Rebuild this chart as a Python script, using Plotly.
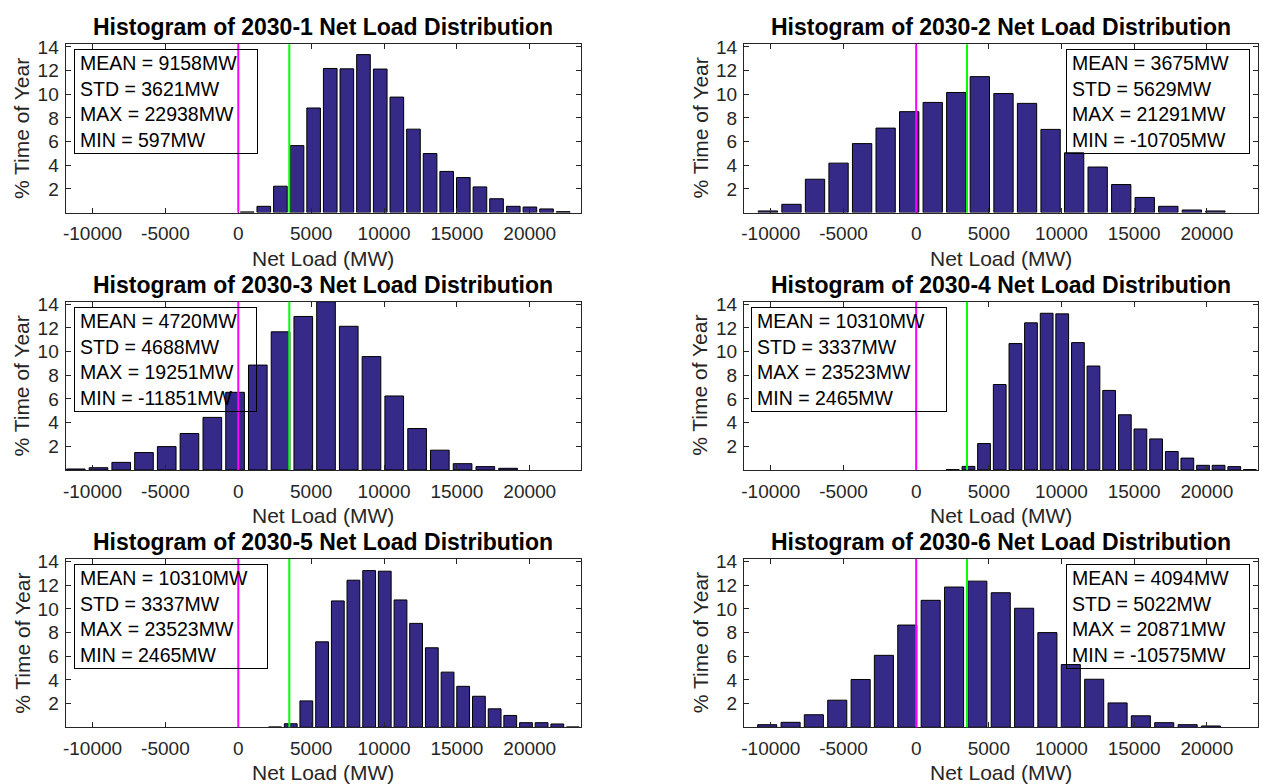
import plotly.graph_objects as go

# ---- data ----
scenarios = ["2030-1", "2030-2", "2030-3", "2030-4", "2030-5", "2030-6"]

# bin centres (MW) of the 20 histogram bars in each panel
centers_1 = [610, 1750, 2890, 4030, 5170, 6310, 7450, 8590, 9740, 10880,
             12020, 13160, 14300, 15440, 16580, 17720, 18870, 20010, 21150, 22290]
centers_2 = [-10200, -8580, -6960, -5340, -3720, -2100, -480, 1140, 2760, 4380,
             6010, 7630, 9250, 10870, 12490, 14110, 15730, 17350, 18970, 20590]
centers_3 = [-11150, -9590, -8030, -6470, -4910, -3350, -1780, -220, 1340, 2900,
             4460, 6020, 7580, 9140, 10700, 12270, 13830, 15390, 16950, 18510]
centers_4 = [2520, 3600, 4670, 5750, 6830, 7900, 8980, 10050, 11130, 12200,
             13280, 14360, 15430, 16510, 17590, 18660, 19740, 20810, 21890, 22960]
centers_5 = [2520, 3600, 4670, 5750, 6830, 7900, 8980, 10050, 11130, 12200,
             13280, 14360, 15430, 16510, 17590, 18660, 19740, 20810, 21890, 22960]
centers_6 = [-10250, -8640, -7040, -5430, -3820, -2220, -610, 1000, 2610, 4210,
             5820, 7430, 9030, 10640, 12250, 13860, 15460, 17070, 18680, 20280]

# % time of year in each bin
pct_1 = [0.06, 0.53, 2.23, 5.66, 8.84, 12.18, 12.15, 13.35, 12.13, 9.76,
         7.05, 4.99, 3.48, 2.96, 2.17, 1.17, 0.53, 0.47, 0.31, 0.08]
pct_2 = [0.14, 0.70, 2.82, 4.18, 5.83, 7.14, 8.53, 9.31, 10.15, 11.49,
         10.06, 9.23, 7.03, 5.05, 3.85, 2.37, 1.28, 0.53, 0.22, 0.14]
pct_3 = [0.08, 0.19, 0.64, 1.47, 1.97, 3.08, 4.44, 6.56, 8.86, 11.67,
         12.97, 14.22, 12.14, 9.58, 6.25, 3.50, 1.67, 0.53, 0.28, 0.14]
pct_4 = [0.03, 0.30, 2.23, 7.22, 10.68, 12.43, 13.24, 13.19, 10.76, 8.78,
         6.72, 4.66, 3.46, 2.62, 1.56, 1.00, 0.39, 0.39, 0.28, 0.03]
pct_5 = [0.03, 0.30, 2.23, 7.22, 10.68, 12.43, 13.24, 13.19, 10.76, 8.78,
         6.72, 4.66, 3.46, 2.62, 1.56, 1.00, 0.39, 0.39, 0.28, 0.03]
pct_6 = [0.22, 0.42, 1.06, 2.29, 4.04, 6.08, 8.64, 10.73, 11.85, 12.35,
         11.37, 10.06, 8.00, 5.30, 4.06, 2.06, 0.97, 0.39, 0.22, 0.11]

mean_mw = [9158, 3675, 4720, 10310, 10310, 4094]
std_mw = [3621, 5629, 4688, 3337, 3337, 5022]
max_mw = [22938, 21291, 19251, 23523, 23523, 20871]
min_mw = [597, -10705, -11851, 2465, 2465, -10575]

zero_line = 0        # magenta marker
green_line = 3500    # green marker

x_ticks = [-10000, -5000, 0, 5000, 10000, 15000, 20000]
y_ticks = [2, 4, 6, 8, 10, 12, 14]

centers = [centers_1, centers_2, centers_3, centers_4, centers_5, centers_6]
pcts = [pct_1, pct_2, pct_3, pct_4, pct_5, pct_6]

# ---- layout (pixels) ----
W, H = 1262, 784
col_left = [62.7, 742.7]
col_right = [579.5, 1258]
row_top = [36.7, 296.7, 556.7]
plot_h = 170
box_left = [70.7, 1065.3, 70.7, 750.2, 70.7, 1065.3]
box_w = [184.3, 184, 183.3, 195.7, 194, 184]
box_h = 105

FONT = "Liberation Sans, Arial, Helvetica, sans-serif"
BAR = "#352A87"
AXC = "#262626"

fig = go.Figure()
annotations = []
shapes = []

for k in range(6):
    r, c = divmod(k, 2)
    n = "" if k == 0 else str(k + 1)
    xa, ya = "x" + n, "y" + n
    x0, x1 = col_left[c] / W, col_right[c] / W
    top_px = row_top[r]
    bot_px = row_top[r] + plot_h
    y1, y0 = 1 - top_px / H, 1 - bot_px / H

    fig.add_trace(go.Bar(
        x=centers[k], y=pcts[k], xaxis=xa, yaxis=ya,
        marker=dict(color=BAR, line=dict(color="black", width=1)),
        showlegend=False,
    ))

    common = dict(showline=True, linecolor=AXC, linewidth=1, mirror="ticks",
                  ticks="inside", ticklen=5, tickcolor=AXC, showgrid=False,
                  zeroline=False, tickfont=dict(family=FONT, size=19, color=AXC))
    fig.update_layout(**{
        "xaxis" + n: dict(domain=[x0, x1], anchor=ya, range=[-11851, 23523],
                          tickvals=x_ticks, ticktext=[str(v) for v in x_ticks],
                          ticklabelstandoff=4, **common),
        "yaxis" + n: dict(domain=[y0, y1], anchor=xa, range=[0, 14.22],
                          tickvals=y_ticks, ticklabelstandoff=2, **common),
    })

    for xv, col in [(zero_line, "#FF00FF"), (green_line, "#00FF00")]:
        shapes.append(dict(type="line", xref=xa, yref=ya + " domain",
                           x0=xv, x1=xv, y0=0, y1=1,
                           line=dict(color=col, width=2), layer="above"))

    xc = (x0 + x1) / 2
    annotations.append(dict(
        text="<b>Histogram of %s Net Load Distribution</b>" % scenarios[k],
        xref="paper", yref="paper", x=xc, y=1 - (top_px - 17) / H,
        xanchor="center", yanchor="middle", showarrow=False,
        font=dict(family=FONT, size=23, color="black")))
    annotations.append(dict(
        text="Net Load (MW)", xref="paper", yref="paper",
        x=xc, y=1 - (bot_px + 46) / H, xanchor="center", yanchor="middle",
        showarrow=False, font=dict(family=FONT, size=21, color=AXC)))
    annotations.append(dict(
        text="% Time of Year", xref="paper", yref="paper", textangle=-90,
        x=(col_left[c] - 44) / W, y=(y0 + y1) / 2,
        xanchor="center", yanchor="middle",
        showarrow=False, font=dict(family=FONT, size=21, color=AXC)))
    stats = "MEAN = %dMW<br>STD = %dMW<br>MAX = %dMW<br>MIN = %dMW" % (
        mean_mw[k], std_mw[k], max_mw[k], min_mw[k])
    annotations.append(dict(
        text=stats, xref="paper", yref="paper",
        x=box_left[k] / W, y=1 - (top_px + 5) / H,
        xanchor="left", yanchor="top", align="left", valign="middle",
        width=box_w[k] - 12, height=box_h - 12, borderpad=5,
        bordercolor="black", borderwidth=1, bgcolor="rgba(0,0,0,0)",
        showarrow=False, font=dict(family=FONT, size=19.5, color="black")))

fig.update_layout(
    width=W, height=H,
    margin=dict(l=0, r=0, t=0, b=0),
    paper_bgcolor="white", plot_bgcolor="white",
    bargap=0.18,
    annotations=annotations, shapes=shapes,
    font=dict(family=FONT),
)

fig.write_html("out.html",
               config={"displayModeBar": False},
               post_script="document.body.style.margin='0';"
                           "document.body.style.overflow='hidden';")
